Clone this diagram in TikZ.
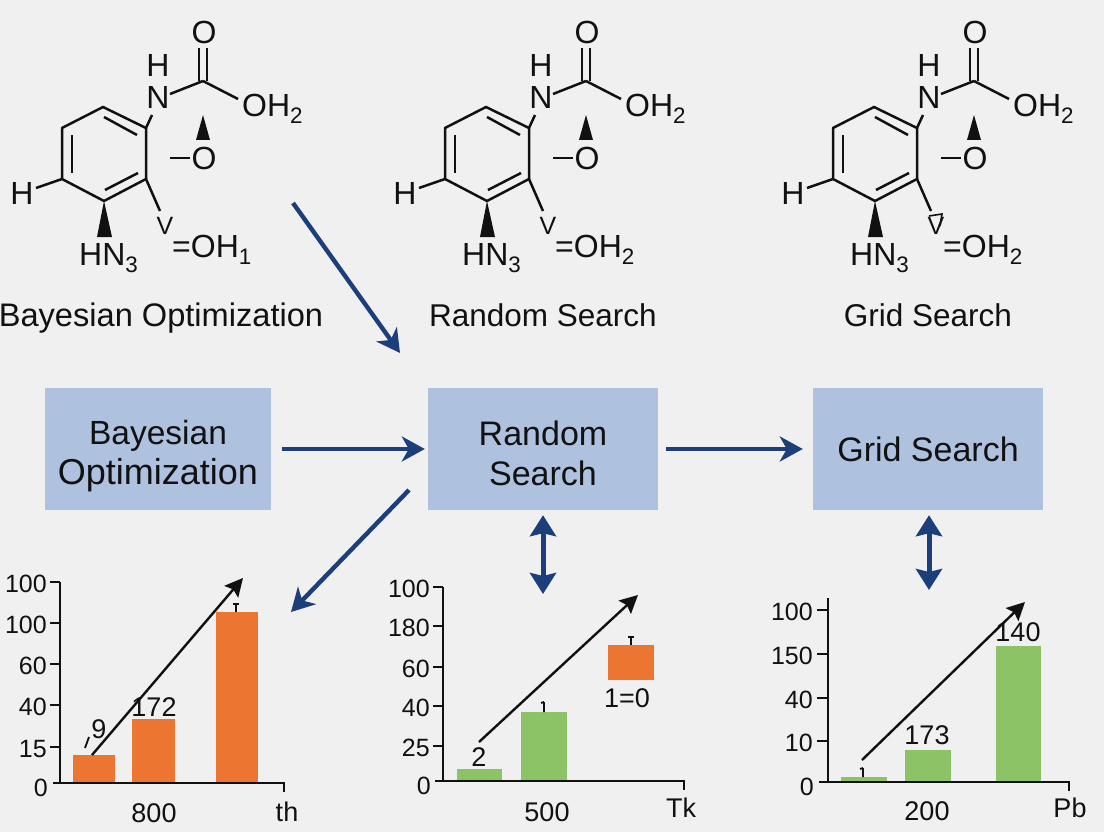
\documentclass[tikz,border=0pt]{standalone}
\usepackage{fontspec}
\setmainfont{Liberation Sans}
\usetikzlibrary{positioning,arrows.meta,calc}
\definecolor{pagebg}{RGB}{240,240,240}
\definecolor{boxblue}{RGB}{174,193,222}
\definecolor{arrowblue}{RGB}{28,62,122}
\definecolor{barorange}{RGB}{237,117,50}
\definecolor{bargreen}{RGB}{140,195,102}
\definecolor{inkblack}{RGB}{17,17,17}
\newcommand{\fs}[1]{\fontsize{#1}{#1}\selectfont}
\tikzset{
  method/.style={rectangle,fill=boxblue,align=center,minimum width=230pt,minimum height=122pt,inner sep=0pt,text=inkblack,font=\fs{34}},
  caption/.style={inner sep=0pt,anchor=base,text=inkblack,font=\fs{31.5}},
  atom/.style={inner sep=0pt,text=inkblack,font=\fs{32}},
  ticklabel/.style={inner sep=0pt,anchor=east,text=inkblack,font=\fs{25}},
  barlabel/.style={inner sep=0pt,text=inkblack,font=\fs{27}},
  bond/.style={draw=inkblack,line width=2.5pt},
  axisline/.style={draw=inkblack,line width=2.4pt},
  errbar/.style={draw=inkblack,line width=1.8pt},
  flowarrow/.style={draw=arrowblue,line width=4.4pt,-{Stealth[length=23pt,width=25pt,inset=7pt]}},
  twoway/.style={draw=arrowblue,line width=5pt,{Stealth[length=21pt,width=26pt,inset=3pt]}-{Stealth[length=21pt,width=26pt,inset=3pt]}},
  trend/.style={draw=inkblack,line width=2.4pt,-{Stealth[length=18pt,width=18pt,inset=3pt]}}
}
% one structure drawing: #1 prefix, #2 x shift, #3 subscript
\newcommand{\molecule}[3]{
  \begin{scope}[xshift=#2pt,name prefix=#1-]
    \coordinate (r1) at (62,128); \coordinate (r2) at (103,107);
    \coordinate (r3) at (146,128); \coordinate (r4) at (146,179);
    \coordinate (r5) at (104,201); \coordinate (r6) at (62,179);
    \coordinate (c) at (203,81);
    \node[atom] (nh) at (158,97) {N};
    \node[atom] (hn) at (158,65) {H};
    \node[atom] (oa) at (204,32) {O};
    \node[atom,anchor=west] (oh) at (242,109) {OH\textsubscript{2}};
    \node[atom] (ob) at (204,158) {O};
    \node[atom] (hl) at (22,193) {H};
    \node[atom,anchor=west] (hn3) at (79,258) {HN\textsubscript{3}};
    \node[inner sep=0pt,text=inkblack,font=\fs{25}] (vee) at (165,226) {V};
    \node[atom,anchor=west] (ohb) at (172,250) {=OH\textsubscript{#3}};
    \draw[bond,line join=round] (r1) -- (r2) -- (r3) -- (r4) -- (r5) -- (r6) -- cycle;
    \draw[bond] (104,117) -- (137,135);
    \draw[bond] (72,135) -- (72,173);
    \draw[bond] (105,190) -- (138,173);
    \draw[bond] (r3) -- (152,115);
    \draw[bond] (170,94) -- (c);
    \draw[bond] (c) -- (238,99);
    \draw[bond] ($(c)+(-4,0)$) -- (199,48);
    \draw[bond] ($(c)+(4,0)$) -- (207,48);
    \draw[bond] (36,188) -- (r6);
    \draw[bond] (r4) -- (160,211);
    \draw[bond] (170,158) -- (190,158);
    \fill[inkblack] (203,115) -- (196,140) -- (210,140) -- cycle;
    \fill[inkblack] (r5) -- (97,237) -- (112,237) -- cycle;
  \end{scope}
}
% axes of one chart: #1 prefix, #2 left end, #3 axis x, #4 top, #5 right end, #6 baseline
\newcommand{\chartaxes}[6]{
  \coordinate (#1-top) at (#3,#4);
  \coordinate (#1-org) at (#3,#6);
  \coordinate (#1-end) at (#5,#6);
  \draw[axisline] (#1-top) -- (#1-org);
  \draw[axisline] (#2,#6) -- (#1-end) -- ++(0,9);
}
\begin{document}
\begin{tikzpicture}[x=1pt,y=-1pt]
  \useasboundingbox (0,0) rectangle (1104,832);
  \fill[pagebg] (0,0) rectangle (1104,832);

  \molecule{ma}{0}{1}
  \molecule{mb}{383}{2}
  \molecule{mc}{771}{2}
  \draw[bond,line width=1.6pt] (929,216) -- (942,214) -- (940,226);

  \node[caption,font=\fs{32.6}] (capa) at (161,326) {Bayesian Optimization};
  \node[caption] (capb) at (543,326) {Random Search};
  \node[caption] (capc) at (928,326) {Grid Search};

  \node[method,minimum width=226pt,font=\fs{36}] (bayes) at (158,449) {\rule{0pt}{39pt}{\fs{33.5}Bayesian}\\[4pt]Optimization};
  \node[method] (random) at (543,449) {\rule{0pt}{33pt}Random\\[6pt]Search};
  \node[method] (grid) at (928,449) {Grid Search};

  \coordinate (topfrom) at (293,203);
  \coordinate (topto) at (400,353);
  \coordinate (leftfrom) at (409,490);
  \coordinate (leftto) at (291,612);
  \coordinate (midto) at (543,594);
  \coordinate (rightto) at (929,590);
  \draw[flowarrow] (topfrom) -- (topto);
  \draw[flowarrow,shorten <=11pt,shorten >=3pt] (bayes.east) -- (random.west);
  \draw[flowarrow,shorten <=8pt,shorten >=10pt] (random.east) -- (grid.west);
  \draw[flowarrow] (leftfrom) -- (leftto);
  \draw[twoway,shorten <=5pt] (random.south) -- (midto);
  \draw[twoway,shorten <=5pt] (grid.south -| rightto) -- (rightto);

  % left chart
  \fill[barorange] (73,755) rectangle (115,782);
  \fill[barorange] (132,719) rectangle (175,782);
  \fill[barorange] (216,612) rectangle (258,782);
  \chartaxes{ca}{53}{60}{582}{284}{783}
  \foreach \lab/\ypos in {100/582,100/623,60/664,40/705,15/747}
    \draw[axisline] (50,\ypos) -- (60,\ypos) node[ticklabel] at (48,\ypos+2) {\lab};
  \node[ticklabel] (ca-zero) at (48,788) {0};
  \draw[errbar] (236,604) -- (236,612) (233,604) -- (239,604);
  \coordinate (ca-from) at (92,755);
  \coordinate (ca-to) at (243,578);
  \draw[trend] (ca-from) -- (ca-to);
  \draw[errbar] (85,748) -- (89,737);
  \node[barlabel] (ca-a) at (99,729) {9};
  \node[barlabel] (ca-b) at (154,707) {172};
  \node[barlabel] (ca-x) at (154,813) {800};
  \node[barlabel] (ca-u) at (287,812) {th};

  % middle chart
  \fill[bargreen] (457,769) rectangle (502,781);
  \fill[bargreen] (521,712) rectangle (567,781);
  \fill[barorange] (608,645) rectangle (654,680);
  \chartaxes{cb}{435}{443}{587}{684}{781}
  \foreach \lab/\ypos in {100/587,180/626,60/667,40/706,25/746}
    \draw[axisline] (433,\ypos) -- (443,\ypos) node[ticklabel] at (431,\ypos+2) {\lab};
  \node[ticklabel] (cb-zero) at (431,786) {0};
  \draw[errbar] (631,637) -- (631,645) (628,637) -- (634,637);
  \draw[errbar] (544,702) -- (544,712) (541,703) -- (544,702);
  \coordinate (cb-from) at (479,742);
  \coordinate (cb-to) at (638,595);
  \draw[trend] (cb-from) -- (cb-to);
  \node[barlabel] (cb-a) at (479,757) {2};
  \node[barlabel] (cb-b) at (627,698) {1=0};
  \node[barlabel] (cb-x) at (547,812) {500};
  \node[barlabel] (cb-u) at (681,808) {Tk};

  % right chart
  \fill[bargreen] (841,777) rectangle (887,782);
  \fill[bargreen] (905,750) rectangle (951,782);
  \fill[bargreen] (996,646) rectangle (1041,782);
  \chartaxes{cc}{819}{828}{598}{1069}{782}
  \foreach \lab/\ypos in {100/610,150/654,40/698,10/741}
    \draw[axisline] (817,\ypos) -- (828,\ypos) node[ticklabel] at (814,\ypos+2) {\lab};
  \node[ticklabel] (cc-zero) at (814,787) {0};
  \draw[errbar] (863,768) -- (863,777) (860,769) -- (863,768);
  \coordinate (cc-from) at (862,760);
  \coordinate (cc-to) at (1025,602);
  \draw[trend] (cc-from) -- (cc-to);
  \node[barlabel] (cc-b) at (927,735) {173};
  \node[barlabel] (cc-c) at (1018,632) {140};
  \node[barlabel] (cc-x) at (927,811) {200};
  \node[barlabel] (cc-u) at (1070,808) {Pb};
\end{tikzpicture}
\end{document}
